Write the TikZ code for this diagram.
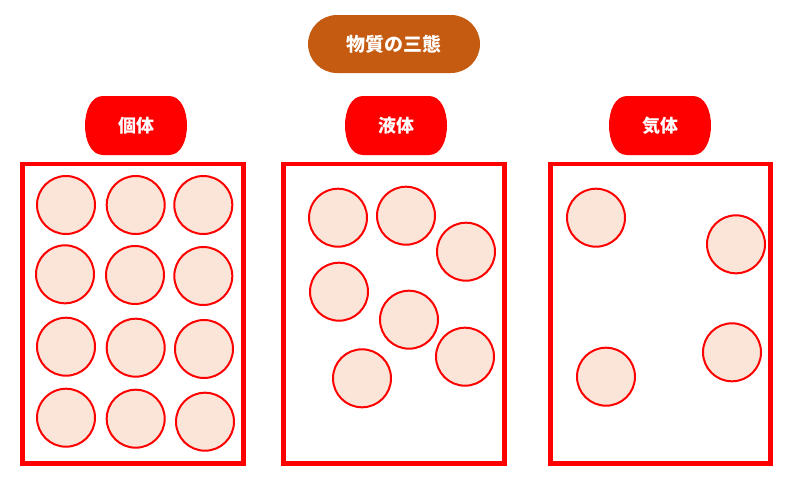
\documentclass[tikz,border=0pt]{standalone}
\usepackage{fontspec}
\setmainfont{Noto Sans CJK JP}
\usetikzlibrary{shapes.misc}
\definecolor{peach}{HTML}{FBE5D8}
\definecolor{titlebrown}{HTML}{C55A11}
\definecolor{pure red}{HTML}{FF0000}
\tikzset{
  particle/.style={circle, draw=pure red, line width=2pt, fill=peach, minimum size=58pt, inner sep=0pt},
  container/.style={draw=pure red, line width=4.7pt, inner sep=0pt, minimum height=299.3pt},
  tabfill/.style={fill=pure red},
  tabtext/.style={text=white, font=\bfseries\fontsize{18}{18}\selectfont},
  titlepill/.style={rounded rectangle, fill=titlebrown, text=white, minimum width=172pt, minimum height=58pt, inner sep=0pt, font=\bfseries\fontsize{19}{19}\selectfont}
}
\newcommand\tabshape[1]{%
  \fill[tabfill] (#1-33,96) -- (#1+33,96) .. controls (#1+57,96) and (#1+57,155) .. (#1+33,155)
    -- (#1-33,155) .. controls (#1-57,155) and (#1-57,96) .. (#1-33,96) -- cycle;}
\begin{document}
\begin{tikzpicture}[x=1pt,y=-1pt]
\useasboundingbox (0,0) rectangle (798,482);
\fill[white] (0,0) rectangle (798,482);
% title
\node[titlepill] (title) at (394,44) {物質の三態};
% tabs
\tabshape{136}
\node[tabtext] (solidlbl) at (136,125.5) {個体};
\tabshape{396}
\node[tabtext] (liquidlbl) at (396,125.5) {液体};
\tabshape{660}
\node[tabtext] (gaslbl) at (660,125.5) {気体};
% containers
\node[container, minimum width=221.3pt] (solidbox) at (133,313.65) {};
\node[container, minimum width=221pt] (liquidbox) at (393.8,313.65) {};
\node[container, minimum width=219.6pt] (gasbox) at (660.5,313.65) {};
% solid particles
\node[particle] (s11) at (66,205) {};
\node[particle] (s12) at (135.7,205) {};
\node[particle] (s13) at (203.3,205) {};
\node[particle] (s21) at (65,274.3) {};
\node[particle] (s22) at (135,275) {};
\node[particle] (s23) at (203.3,276) {};
\node[particle] (s31) at (66,346.7) {};
\node[particle] (s32) at (135.7,347.7) {};
\node[particle] (s33) at (204,349) {};
\node[particle] (s41) at (66,417.7) {};
\node[particle] (s42) at (135.7,418.7) {};
\node[particle] (s43) at (205,421.7) {};
% liquid particles
\node[particle] (l1) at (338,217.7) {};
\node[particle] (l2) at (406,215.7) {};
\node[particle] (l3) at (466,251.7) {};
\node[particle] (l4) at (339,291.7) {};
\node[particle] (l5) at (409,319.7) {};
\node[particle] (l6) at (465,356.7) {};
\node[particle] (l7) at (362,378.3) {};
% gas particles
\node[particle] (g1) at (596,217.7) {};
\node[particle] (g2) at (736,244.3) {};
\node[particle] (g3) at (606,376.7) {};
\node[particle] (g4) at (732,352.3) {};
\end{tikzpicture}
\end{document}
